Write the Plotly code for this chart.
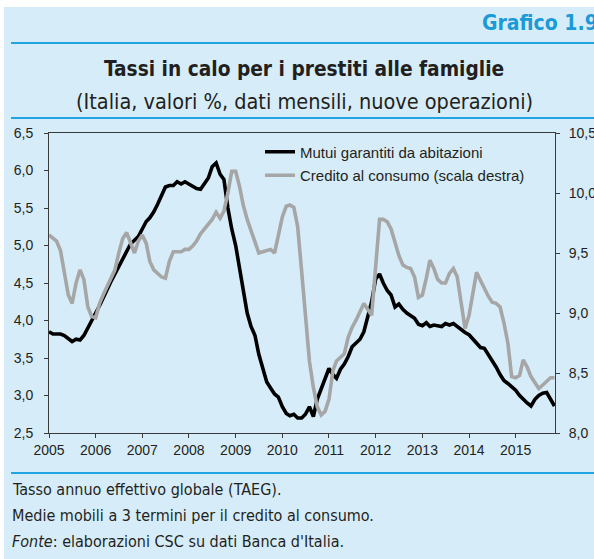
import pandas as pd
import plotly.graph_objects as go

W, H = 594, 559
L, R, T, B = 49, 555, 133, 433  # plot area in px

months = pd.date_range("2005-01-01", "2015-11-01", freq="MS")

mutui = [
    3.85, 3.82, 3.82, 3.82, 3.80, 3.76, 3.72, 3.75, 3.74, 3.80, 3.90, 4.00,
    4.08, 4.20, 4.30, 4.42, 4.52, 4.62, 4.72, 4.82, 4.92, 5.02, 5.07, 5.12,
    5.22, 5.32, 5.37, 5.45, 5.55, 5.68, 5.78, 5.80, 5.80, 5.85, 5.82, 5.85,
    5.82, 5.80, 5.76, 5.75, 5.82, 5.90, 6.05, 6.10, 5.95, 5.88, 5.50, 5.22,
    5.00, 4.70, 4.40, 4.10, 3.92, 3.80, 3.55, 3.35, 3.18, 3.10, 3.02, 2.98,
    2.85, 2.76, 2.73, 2.75, 2.70, 2.70, 2.75, 2.85, 2.72, 2.95, 3.08, 3.22,
    3.36, 3.28, 3.23, 3.35, 3.42, 3.52, 3.65, 3.70, 3.75, 3.85, 4.05, 4.25,
    4.55, 4.62, 4.50, 4.40, 4.34, 4.18, 4.22, 4.15, 4.10, 4.06, 4.03, 3.95,
    3.93, 3.97, 3.92, 3.94, 3.93, 3.92, 3.96, 3.94, 3.96, 3.92, 3.87, 3.84,
    3.81, 3.75, 3.70, 3.64, 3.63, 3.55, 3.47, 3.38, 3.28, 3.20, 3.16, 3.12,
    3.07, 3.00, 2.95, 2.90, 2.86, 2.95, 3.00, 3.03, 3.04, 2.95, 2.86,
]

credito = [
    9.65, 9.62, 9.60, 9.52, 9.35, 9.15, 9.08, 9.25, 9.36, 9.28, 9.05, 8.97,
    8.96, 9.08, 9.15, 9.22, 9.28, 9.36, 9.50, 9.62, 9.67, 9.58, 9.50, 9.60,
    9.65, 9.58, 9.43, 9.36, 9.33, 9.30, 9.29, 9.43, 9.51, 9.51, 9.51, 9.53,
    9.53, 9.56, 9.60, 9.66, 9.70, 9.75, 9.78, 9.84, 9.79, 9.85, 10.00, 10.18,
    10.18, 10.05, 9.90, 9.78, 9.68, 9.60, 9.50, 9.51, 9.52, 9.53, 9.50, 9.65,
    9.80, 9.89, 9.90, 9.88, 9.72, 9.35, 8.95, 8.60, 8.38, 8.22, 8.15, 8.18,
    8.28, 8.52, 8.60, 8.63, 8.66, 8.80, 8.88, 8.94, 9.02, 9.08, 9.03, 8.98,
    9.38, 9.78, 9.78, 9.76, 9.70, 9.58, 9.48, 9.40, 9.38, 9.37, 9.30, 9.13,
    9.15, 9.29, 9.44, 9.37, 9.28, 9.25, 9.25, 9.33, 9.37, 9.30, 9.08, 8.87,
    8.98, 9.15, 9.34, 9.27, 9.20, 9.14, 9.09, 9.08, 9.05, 8.92, 8.75, 8.47,
    8.46, 8.48, 8.61, 8.55, 8.47, 8.42, 8.37, 8.40, 8.43, 8.46, 8.46,
]

year_ticks = [f"{y}-01-01" for y in range(2005, 2016)]
year_labels = [str(y) for y in range(2005, 2016)]
left_ticks = [2.5, 3.0, 3.5, 4.0, 4.5, 5.0, 5.5, 6.0, 6.5]
right_ticks = [8.0, 8.5, 9.0, 9.5, 10.0, 10.5]

BG = "#d6edf9"
BLUE = "#22a3e2"
TXT = "#231f20"
SANS = "Liberation Sans, Arial, sans-serif"
NARROW = "DejaVu Sans Condensed, Liberation Sans Narrow, Arial Narrow, sans-serif"


def px(x):
    return (x - L) / (R - L)


def py(y):
    return (B - y) / (B - T)


fig = go.Figure()
fig.add_trace(go.Scatter(
    x=months, y=mutui, name="Mutui garantiti da abitazioni",
    mode="lines", line=dict(color="#000000", width=3.6), legendgroup="a",
))
fig.add_trace(go.Scatter(
    x=months, y=credito, name="Credito al consumo (scala destra)",
    mode="lines", line=dict(color="#a6a6a6", width=3.6), yaxis="y2", legendgroup="b",
))

shapes = [
    dict(type="rect", xref="paper", yref="paper", x0=px(-5), x1=px(W + 5), y0=py(-5), y1=py(7),
         fillcolor="white", line=dict(width=0), layer="below"),
    dict(type="rect", xref="paper", yref="paper", x0=px(-5), x1=px(4), y0=py(-5), y1=py(H + 5),
         fillcolor="white", line=dict(width=0), layer="below"),
    dict(type="line", xref="paper", yref="paper", x0=px(11), x1=px(W + 5), y0=py(43), y1=py(43),
         line=dict(color=BLUE, width=2)),
    dict(type="line", xref="paper", yref="paper", x0=px(11), x1=px(W + 5), y0=py(118), y1=py(118),
         line=dict(color=BLUE, width=2)),
    dict(type="line", xref="paper", yref="paper", x0=px(11), x1=px(W + 5), y0=py(473), y1=py(473),
         line=dict(color=BLUE, width=2)),
]

annotations = [
    dict(text="<b>Grafico 1.9</b>", x=px(600), y=py(23), xref="paper", yref="paper",
         xanchor="right", yanchor="middle", showarrow=False,
         font=dict(family=NARROW, size=21, color="#1b9ad8")),
    dict(text="<b>Tassi in calo per i prestiti alle famiglie</b>", x=px(304), y=py(69),
         xref="paper", yref="paper", xanchor="center", yanchor="middle", showarrow=False,
         font=dict(family=NARROW, size=20.7, color=TXT)),
    dict(text="(Italia, valori %, dati mensili, nuove operazioni)", x=px(304), y=py(101),
         xref="paper", yref="paper", xanchor="center", yanchor="middle", showarrow=False,
         font=dict(family=NARROW, size=21.5, color=TXT)),
    dict(text="Tasso annuo effettivo globale (TAEG).", x=px(10), y=py(489),
         xref="paper", yref="paper", xanchor="left", yanchor="middle", showarrow=False,
         font=dict(family=NARROW, size=16, color=TXT)),
    dict(text="Medie mobili a 3 termini per il credito al consumo.", x=px(10), y=py(515),
         xref="paper", yref="paper", xanchor="left", yanchor="middle", showarrow=False,
         font=dict(family=NARROW, size=16, color=TXT)),
    dict(text="<i>Fonte</i>: elaborazioni CSC su dati Banca d'Italia.", x=px(10), y=py(541),
         xref="paper", yref="paper", xanchor="left", yanchor="middle", showarrow=False,
         font=dict(family=NARROW, size=16, color=TXT)),
]

axis_common = dict(
    showline=True, linecolor="#3a3a3a", linewidth=1, ticks="outside", ticklen=4,
    tickcolor="#3a3a3a", showgrid=False, zeroline=False, automargin=False,
    tickfont=dict(family=SANS, size=14, color=TXT),
)

fig.update_layout(
    width=W, height=H, autosize=False,
    margin=dict(l=L, r=W - R, t=T, b=H - B, pad=0),
    paper_bgcolor=BG, plot_bgcolor=BG,
    separators=",.",
    showlegend=True,
    legend=dict(
        x=px(260), y=py(135.5), xanchor="left", yanchor="top",
        bgcolor="rgba(0,0,0,0)", borderwidth=0,
        font=dict(family=SANS, size=15, color=TXT),
        tracegroupgap=1, traceorder="grouped",
    ),
    xaxis=dict(
        type="date", range=["2005-01-01", "2015-11-05"],
        tickvals=year_ticks, ticktext=year_labels, mirror=True, **axis_common,
    ),
    yaxis=dict(
        range=[2.5, 6.5], tickvals=left_ticks, tickformat=".1f",
        ticklabelstandoff=8, **axis_common,
    ),
    yaxis2=dict(
        range=[8.0, 10.5], tickvals=right_ticks, tickformat=".1f", overlaying="y",
        side="right", ticklabelstandoff=6, **axis_common,
    ),
    shapes=shapes,
    annotations=annotations,
)

post = (
    "document.documentElement.style.margin='0';"
    "document.body.style.margin='0';"
    "document.body.style.padding='0';"
    "document.body.style.overflow='hidden';"
)

fig.write_html("out.html", config={"responsive": False, "displayModeBar": False},
               post_script=post)
